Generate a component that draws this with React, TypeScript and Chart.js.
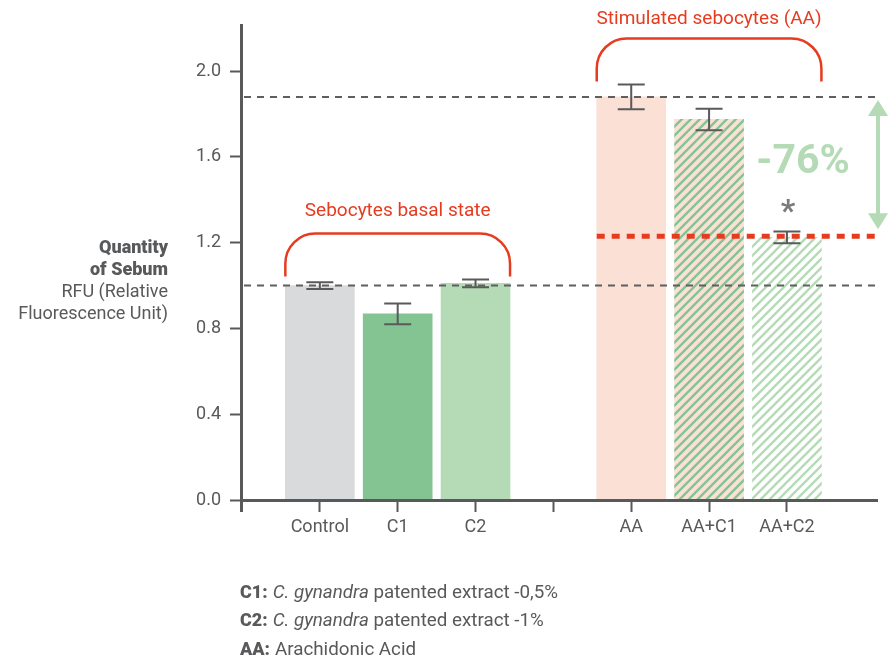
import React, { useEffect, useRef } from 'react';
import { Chart, registerables } from 'chart.js';

Chart.register(...registerables);

// ---- data ----
const categories = ['Control', 'C1', 'C2', '', 'AA', 'AA+C1', 'AA+C2'];
const values: (number | null)[] = [1.0, 0.868, 1.01, null, 1.88, 1.775, 1.225];
const errors: (number | null)[] = [0.016, 0.048, 0.018, null, 0.058, 0.05, 0.027];
const yTicks = [0, 0.4, 0.8, 1.2, 1.6, 2.0];
const basalLevel = 1.0;
const stimulatedLevel = 1.88;
const treatedLevel = 1.23;
const reductionLabel = '-76%';
const significanceMark = '*';
const significantIndex = 6;
const groupLabels = ['Sebocytes basal state', 'Stimulated sebocytes (AA)'];
const groupStart = [0, 4];
const groupEnd = [2, 6];
const yTitleBold = ['Quantity', 'of Sebum'];
const yTitleRegular = ['RFU (Relative', 'Fluorescence Unit)'];
const footKeys = ['C1:', 'C2:', 'AA:'];
const footItalic = ['C. gynandra', 'C. gynandra', ''];
const footRest = [' patented extract -0,5%', ' patented extract -1%', 'Arachidonic Acid'];

// ---- style ----
const AXIS = '#58595b';
const TEXT = '#58595b';
const RED = '#e63b1f';
const LIGHT_GREEN = '#b5dbb6';
const GREEN = '#84c493';
const PEACH = '#fbe0d5';
const FONT = 'Roboto, "Noto Sans", sans-serif';

function makeHatch(ctx: CanvasRenderingContext2D, bg: string | null, stripe: string) {
  const s = 9;
  const c = document.createElement('canvas');
  c.width = s;
  c.height = s;
  const g = c.getContext('2d')!;
  if (bg) {
    g.fillStyle = bg;
    g.fillRect(0, 0, s, s);
  }
  g.strokeStyle = stripe;
  g.lineWidth = 2.4;
  g.beginPath();
  g.moveTo(-1, s + 1); g.lineTo(s + 1, -1);
  g.moveTo(-s / 2, s / 2); g.lineTo(s / 2, -s / 2);
  g.moveTo(s / 2, s * 1.5); g.lineTo(s * 1.5, s / 2);
  g.stroke();
  return ctx.createPattern(c, 'repeat')!;
}

const overlay = {
  id: 'overlay',
  afterDatasetsDraw(chart: any) {
    const { ctx, scales } = chart;
    const x = scales.x;
    const y = scales.y;
    const meta = chart.getDatasetMeta(0);
    const bars = meta.data;
    ctx.save();

    const dashLine = (v: number, x0: number, x1: number, color: string, w: number, dash: number[]) => {
      const py = y.getPixelForValue(v);
      ctx.beginPath();
      ctx.setLineDash(dash);
      ctx.strokeStyle = color;
      ctx.lineWidth = w;
      ctx.moveTo(x0, py);
      ctx.lineTo(x1, py);
      ctx.stroke();
      ctx.setLineDash([]);
    };

    // grey dashed reference lines
    dashLine(basalLevel, x.left + 2, x.right, '#5f5f5f', 2, [7, 6]);
    dashLine(stimulatedLevel, x.left + 2, x.right, '#5f5f5f', 2, [7, 6]);
    // red dashed line
    const aaBar = bars[4];
    dashLine(treatedLevel, aaBar.x - aaBar.width / 2, x.right + 2, RED, 5, [8, 7]);

    // error bars
    const errTop: number[] = [];
    for (let i = 0; i < values.length; i++) {
      const v = values[i];
      const e = errors[i];
      if (v == null || e == null) { errTop.push(NaN); continue; }
      const cx = bars[i].x;
      const t = y.getPixelForValue(v + e);
      const b = y.getPixelForValue(v - e);
      errTop.push(t);
      ctx.strokeStyle = '#5a5a5a';
      ctx.lineWidth = 2;
      ctx.beginPath();
      ctx.moveTo(cx, t); ctx.lineTo(cx, b);
      ctx.moveTo(cx - 13.5, t); ctx.lineTo(cx + 13.5, t);
      ctx.moveTo(cx - 13.5, b); ctx.lineTo(cx + 13.5, b);
      ctx.stroke();
    }

    // brackets and group labels
    for (let gI = 0; gI < groupLabels.length; gI++) {
      const s = bars[groupStart[gI]];
      const e = bars[groupEnd[gI]];
      const x1 = s.x - s.width / 2;
      const x2 = e.x + e.width / 2;
      let minTop = Infinity;
      for (let k = groupStart[gI]; k <= groupEnd[gI]; k++) if (!isNaN(errTop[k])) minTop = Math.min(minTop, errTop[k]);
      const yb = minTop - 3;
      const yt = yb - 43;
      const r = 30;
      ctx.strokeStyle = RED;
      ctx.lineWidth = 2.5;
      ctx.beginPath();
      ctx.moveTo(x1, yb);
      ctx.lineTo(x1, yt + r);
      ctx.arcTo(x1, yt, x1 + r, yt, r);
      ctx.lineTo(x2 - r, yt);
      ctx.arcTo(x2, yt, x2, yt + r, r);
      ctx.lineTo(x2, yb);
      ctx.stroke();
      ctx.fillStyle = RED;
      ctx.font = `19px ${FONT}`;
      ctx.textAlign = 'center';
      ctx.textBaseline = 'middle';
      ctx.fillText(groupLabels[gI], (x1 + x2) / 2, Math.max(yt - 22, 19));
    }

    // green double arrow
    const ax = x.right;
    const aTop = y.getPixelForValue(stimulatedLevel) + 3;
    const aBot = y.getPixelForValue(treatedLevel) - 7;
    ctx.fillStyle = LIGHT_GREEN;
    ctx.strokeStyle = LIGHT_GREEN;
    ctx.lineWidth = 4;
    ctx.beginPath();
    ctx.moveTo(ax, aTop + 12);
    ctx.lineTo(ax, aBot - 12);
    ctx.stroke();
    ctx.beginPath();
    ctx.moveTo(ax, aTop); ctx.lineTo(ax - 10, aTop + 16); ctx.lineTo(ax + 10, aTop + 16); ctx.closePath();
    ctx.fill();
    ctx.beginPath();
    ctx.moveTo(ax, aBot); ctx.lineTo(ax - 10, aBot - 16); ctx.lineTo(ax + 10, aBot - 16); ctx.closePath();
    ctx.fill();

    // -76%
    ctx.font = `bold 41px ${FONT}`;
    ctx.textAlign = 'center';
    ctx.textBaseline = 'alphabetic';
    ctx.fillStyle = LIGHT_GREEN;
    ctx.fillText(reductionLabel, ax - 75, y.getPixelForValue((stimulatedLevel + treatedLevel) / 2) + 6);

    // significance
    ctx.font = `bold 32px ${FONT}`;
    ctx.fillStyle = '#7a7a7a';
    ctx.fillText(significanceMark, bars[significantIndex].x + 1, errTop[significantIndex] - 11);

    // axis lines
    ctx.strokeStyle = AXIS;
    ctx.lineWidth = 3;
    ctx.beginPath();
    ctx.moveTo(x.left - 0.5, y.top);
    ctx.lineTo(x.left - 0.5, y.bottom + 12);
    ctx.moveTo(x.left - 2, y.bottom + 0.5);
    ctx.lineTo(x.right, y.bottom + 0.5);
    ctx.stroke();

    // y title
    ctx.textAlign = 'right';
    ctx.textBaseline = 'middle';
    ctx.fillStyle = TEXT;
    let ly = 248;
    ctx.font = `900 18px ${FONT}`;
    for (const t of yTitleBold) { ctx.fillText(t, 168, ly); ly += 22; }
    ctx.font = `18px ${FONT}`;
    for (const t of yTitleRegular) { ctx.fillText(t, 168, ly); ly += 22; }

    // footnotes
    ctx.textAlign = 'left';
    let fy = 593;
    for (let i = 0; i < footKeys.length; i++) {
      let fx = 240;
      ctx.font = `900 18px ${FONT}`;
      ctx.fillText(footKeys[i], fx, fy);
      fx += ctx.measureText(footKeys[i]).width + 5;
      if (footItalic[i]) {
        ctx.font = `italic 18.8px ${FONT}`;
        ctx.fillText(footItalic[i], fx, fy);
        fx += ctx.measureText(footItalic[i]).width;
      }
      ctx.font = `18.8px ${FONT}`;
      ctx.fillText(footRest[i], fx, fy);
      fy += 28.5;
    }
    ctx.restore();
  },
};

export default function App() {
  const ref = useRef<HTMLCanvasElement | null>(null);
  useEffect(() => {
    const canvas = ref.current!;
    const ctx = canvas.getContext('2d')!;
    const fills = [
      '#d9dadb',
      GREEN,
      LIGHT_GREEN,
      'rgba(0,0,0,0)',
      PEACH,
      makeHatch(ctx, PEACH, GREEN),
      makeHatch(ctx, null, LIGHT_GREEN),
    ];
    const chart = new Chart(canvas, {
      type: 'bar',
      data: {
        datasets: [
          {
            data: categories.map((c, i) => ({ x: i + 1, y: values[i] })) as any,
            backgroundColor: fills as any,
            borderWidth: 0,
            barThickness: 69,
          },
        ],
      },
      options: {
        animation: false,
        responsive: true,
        maintainAspectRatio: false,
        layout: { padding: { top: 24, right: 10, bottom: 0, left: 0 } },
        plugins: { legend: { display: false }, tooltip: { enabled: false } },
        scales: {
          x: {
            type: 'linear',
            offset: false,
            min: 0,
            max: 8.17,
            afterBuildTicks: (s: any) => { s.ticks = categories.map((_, i) => ({ value: i + 1 })); },
            afterFit: (s: any) => { s.height = 161; },
            border: { display: false },
            grid: { offset: false, drawOnChartArea: false, tickLength: 12, tickWidth: 2, tickColor: AXIS, color: AXIS },
            ticks: {
              autoSkip: false,
              maxRotation: 0,
              color: TEXT,
              font: { family: FONT, size: 18 },
              padding: 5,
              callback: (v: any) => categories[Math.round(v) - 1] ?? '',
            },
          },
          y: {
            min: 0,
            max: 2.22,
            afterBuildTicks: (s: any) => { s.ticks = yTicks.map((v) => ({ value: v })); },
            afterFit: (s: any) => { s.width = 242; },
            border: { display: false },
            grid: { drawOnChartArea: false, tickLength: 12, tickWidth: 2, tickColor: AXIS, color: AXIS },
            ticks: {
              color: TEXT,
              font: { family: FONT, size: 18 },
              padding: 9,
              callback: (v: any) => Number(v).toFixed(1),
            },
          },
        },
      },
      plugins: [overlay],
    });
    return () => chart.destroy();
  }, []);
  return (
    <div style={{ position: 'absolute', left: 0, top: 0, width: 888, height: 661, background: '#fff' }}>
      <canvas ref={ref} />
    </div>
  );
}
